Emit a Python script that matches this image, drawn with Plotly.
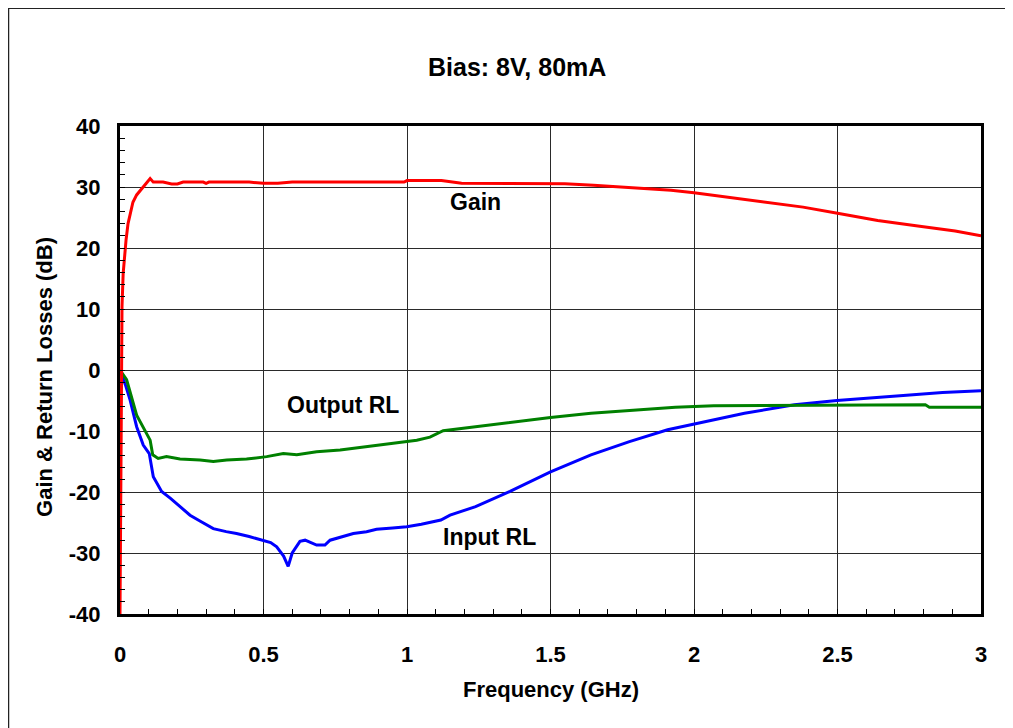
import plotly.graph_objects as go

# ---- data ----
freq_gain = [0, 0.003, 0.005, 0.007, 0.011, 0.016, 0.021, 0.028, 0.035, 0.045,
             0.058, 0.07, 0.081, 0.095, 0.105, 0.116, 0.15, 0.18, 0.2, 0.22,
             0.25, 0.29, 0.3, 0.31, 0.35, 0.45, 0.5, 0.55, 0.6, 0.65,
             0.8, 0.99, 1.0, 1.12, 1.19, 1.4, 1.55, 1.65, 1.75, 1.85,
             1.92, 2.0, 2.11, 2.23, 2.38, 2.5, 2.64, 2.78, 2.91, 3.0]
gain_db = [-40, -10, 5, 10.4, 15.8, 19, 21.3, 24, 25.7, 27.5,
           28.7, 29.4, 30.05, 30.9, 31.4, 30.8, 30.8, 30.5, 30.5, 30.8,
           30.8, 30.8, 30.6, 30.8, 30.8, 30.8, 30.6, 30.6, 30.8, 30.8,
           30.8, 30.8, 31.05, 31.05, 30.6, 30.6, 30.55, 30.3, 30.0, 29.7,
           29.45, 29.07, 28.4, 27.6, 26.7, 25.7, 24.5, 23.6, 22.8, 22.0]

freq_irl = [0, 0.01, 0.02, 0.035, 0.058, 0.081, 0.102, 0.116, 0.145, 0.175,
            0.203, 0.244, 0.28, 0.325, 0.37, 0.406, 0.45, 0.499, 0.525, 0.546,
            0.57, 0.586, 0.6, 0.627, 0.645, 0.685, 0.714, 0.732, 0.77, 0.813,
            0.859, 0.894, 0.95, 0.999, 1.05, 1.09, 1.118, 1.15, 1.239, 1.359,
            1.5, 1.641, 1.775, 1.908, 2.002, 2.176, 2.35, 2.498, 2.752, 2.866,
            3.0]
input_rl_db = [0, -1.2, -2.6, -4.9, -9.3, -12.3, -13.7, -17.5, -19.9, -21.0,
               -22.1, -23.8, -24.8, -26.0, -26.5, -26.8, -27.3, -27.9, -28.3, -29.0,
               -30.5, -32.2, -30.0, -28.1, -27.9, -28.7, -28.7, -27.9, -27.4, -26.8,
               -26.5, -26.1, -25.9, -25.7, -25.3, -24.9, -24.6, -23.8, -22.4, -19.9,
               -16.7, -13.9, -11.75, -9.8, -8.85, -7.1, -5.7, -5.0, -4.1, -3.7,
               -3.4]

freq_orl = [0, 0.023, 0.058, 0.093, 0.105, 0.114, 0.133, 0.162, 0.209, 0.279,
            0.325, 0.372, 0.441, 0.511, 0.569, 0.616, 0.685, 0.767, 0.859, 0.952,
            1.034, 1.08, 1.126, 1.239, 1.359, 1.5, 1.641, 1.842, 1.935, 2.069,
            2.31, 2.806, 2.82, 3.0]
output_rl_db = [0, -1.6, -7.4, -10.4, -11.5, -13.9, -14.5, -14.2, -14.6, -14.75,
                -15.0, -14.75, -14.6, -14.2, -13.7, -13.9, -13.4, -13.1, -12.6, -12.0,
                -11.5, -11.0, -9.95, -9.3, -8.6, -7.8, -7.1, -6.4, -6.1, -5.85,
                -5.8, -5.7, -6.1, -6.1]

x_ticks = [0, 0.5, 1, 1.5, 2, 2.5, 3]
x_tick_labels = ["0", "0.5", "1", "1.5", "2", "2.5", "3"]
y_ticks = [-40, -30, -20, -10, 0, 10, 20, 30, 40]
y_tick_labels = ["-40", "-30", "-20", "-10", "0", "10", "20", "30", "40"]

title_text = "Bias: 8V, 80mA"
x_title = "Frequency (GHz)"
y_title = "Gain & Return Losses (dB)"
curve_labels = [("Gain", 1.237, 27.5), ("Output RL", 0.776, -5.8), ("Input RL", 1.288, -27.3)]

FONT = "Liberation Sans, Arial, Helvetica, sans-serif"

fig = go.Figure()
fig.add_trace(go.Scatter(x=freq_irl, y=input_rl_db, mode="lines", name="Input RL",
                         line=dict(color="#0000FF", width=3)))
fig.add_trace(go.Scatter(x=freq_orl, y=output_rl_db, mode="lines", name="Output RL",
                         line=dict(color="#008000", width=3)))
fig.add_trace(go.Scatter(x=freq_gain, y=gain_db, mode="lines", name="Gain",
                         line=dict(color="#FF0000", width=3)))

axis_common = dict(
    showline=True, linewidth=3, linecolor="black", mirror=True,
    showgrid=True, gridcolor="#2a2a2a", gridwidth=1,
    zeroline=False,
    ticks="inside", ticklen=5, tickcolor="black", tickwidth=1,
    tickfont=dict(family=FONT, size=22, color="black", weight="bold"),
)

fig.update_xaxes(range=[0, 3], tickvals=x_ticks, ticktext=x_tick_labels,
                 minor=dict(dtick=0.1, ticks="inside", ticklen=5, tickcolor="black", showgrid=False),
                 ticklabelstandoff=19, **axis_common)
fig.update_yaxes(range=[-40, 40], tickvals=y_ticks, ticktext=y_tick_labels,
                 minor=dict(dtick=2, ticks="inside", ticklen=5, tickcolor="black", showgrid=False),
                 ticklabelstandoff=12, **axis_common)

annotations = [
    dict(text=title_text, x=0.461, y=1.121, xref="paper", yref="paper",
         showarrow=False, xanchor="center", yanchor="middle",
         font=dict(family=FONT, size=25, color="black", weight="bold")),
    dict(text=x_title, x=0.5, y=-0.154, xref="paper", yref="paper",
         showarrow=False, xanchor="center", yanchor="middle",
         font=dict(family=FONT, size=22, color="black", weight="bold")),
    dict(text=y_title, x=-0.087, y=0.486, xref="paper", yref="paper",
         showarrow=False, xanchor="center", yanchor="middle", textangle=-90,
         font=dict(family=FONT, size=22, color="black", weight="bold")),
]
for txt, fx, fy in curve_labels:
    annotations.append(dict(text=txt, x=fx, y=fy, xref="x", yref="y", showarrow=False,
                            xanchor="center", yanchor="middle",
                            font=dict(family=FONT, size=23, color="black", weight="bold")))

# page body has an 8 px margin, so the figure is sized/margined to land the
# plot area at the reference position
fig.update_layout(
    width=1005, height=720,
    margin=dict(l=112, r=32, t=118, b=114),
    paper_bgcolor="white", plot_bgcolor="white",
    showlegend=False,
    annotations=annotations,
    shapes=[dict(type="rect", xref="paper", yref="paper",
                 x0=-0.1295, x1=1.06, y0=-0.27, y1=1.2415,
                 line=dict(color="#222222", width=1.5), layer="below")],
)

fig.write_html("out.html")
